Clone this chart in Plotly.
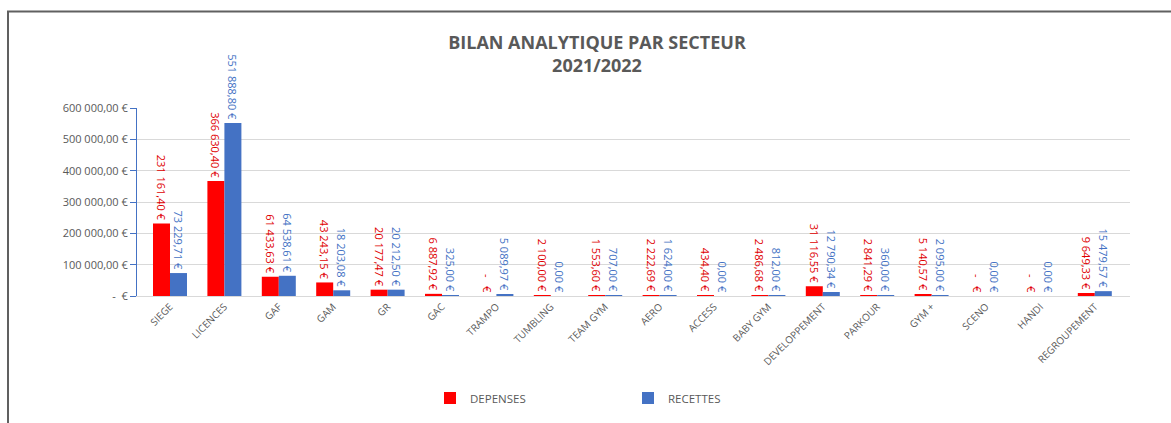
import plotly.graph_objects as go

categories = ["SIEGE", "LICENCES", "GAF", "GAM", "GR", "GAC", "TRAMPO", "TUMBLING",
              "TEAM GYM", "AERO", "ACCESS", "BABY GYM", "DEVELOPPEMENT", "PARKOUR",
              "GYM +", "SCENO", "HANDI", "REGROUPEMENT"]
depenses = [231161.40, 366630.40, 61433.63, 43243.15, 20177.47, 6887.92, 0.0, 2100.00,
            1553.60, 2222.69, 434.40, 2486.68, 31116.55, 2841.29, 5140.57, 0.0, 0.0, 9649.33]
recettes = [73229.71, 551888.80, 64538.61, 18203.08, 20212.50, 325.00, 5089.97, 0.00,
            707.00, 1624.00, 0.00, 812.00, 12790.34, 360.00, 2095.00, 0.00, 0.00, 15479.57]
y_tickvals = [0, 100000, 200000, 300000, 400000, 500000, 600000]
y_ticktext = ["-  €", "100 000,00 €", "200 000,00 €", "300 000,00 €",
              "400 000,00 €", "500 000,00 €", "600 000,00 €"]


def fmt(v, dash_zero):
    if v == 0 and dash_zero:
        return "-   €"
    s = f"{v:,.2f}"
    s = s.replace(",", " ").replace(".", ",")
    return s + " €"


dep_text = [fmt(v, True) for v in depenses]
rec_text = [fmt(v, False) for v in recettes]

FONT = "Open Sans"
GRAY = "#595959"

W, H = 1171, 423
L, R, T, B = 137, 41, 108, 126
PW, PH = W - L - R, H - T - B
STEP = 54.4
FIRST = 170
x_range = [-(FIRST - L) / STEP, (W - R - FIRST) / STEP]

fig = go.Figure()
fig.add_trace(go.Bar(
    x=categories, y=depenses, name="DEPENSES",
    marker=dict(color="#FF0000", line=dict(width=0)),
    text=dep_text, textposition="outside", textangle=90, constraintext="none",
    textfont=dict(color="#E00000", size=11, family=FONT),
    cliponaxis=False,
))
fig.add_trace(go.Bar(
    x=categories, y=recettes, name="RECETTES",
    marker=dict(color="#4472C4", line=dict(width=0)),
    text=rec_text, textposition="outside", textangle=90, constraintext="none",
    textfont=dict(color="#4472C4", size=11, family=FONT),
    cliponaxis=False,
))

fig.update_layout(
    width=W, height=H,
    margin=dict(l=L, r=R, t=T, b=B),
    paper_bgcolor="white", plot_bgcolor="white",
    barmode="group", bargap=0.375, bargroupgap=0,
    title=dict(
        text="<b>BILAN ANALYTIQUE PAR SECTEUR<br>2021/2022</b>",
        x=(597 - L) / PW, xref="paper", xanchor="center",
        y=1 - 49 / H, yref="container", yanchor="middle",
        font=dict(family=FONT, size=18, color=GRAY),
    ),
    font=dict(family=FONT, color=GRAY),
    showlegend=True,
    legend=dict(
        orientation="h", x=(430 - L) / PW, xanchor="left",
        y=-(398 - T - PH) / PH, yanchor="middle",
        font=dict(size=11.5, color=GRAY, family=FONT),
        entrywidth=153, traceorder="normal",
        itemwidth=30,
    ),
    xaxis=dict(
        range=x_range,
        tickangle=-45, tickfont=dict(size=10, color=GRAY, family=FONT),
        showline=True, linecolor="#D9D9D9", linewidth=1,
        showgrid=False, ticks="",
    ),
    yaxis=dict(
        range=[0, 600000], tickvals=y_tickvals, ticktext=y_ticktext,
        tickfont=dict(size=11, color=GRAY, family=FONT),
        showgrid=True, gridcolor="#D9D9D9", gridwidth=1,
        showline=True, linecolor="#4472C4", linewidth=1,
        ticks="outside", tickcolor="#4472C4", ticklen=6,
        zeroline=False,
    ),
    shapes=[
        dict(type="rect", xref="paper", yref="paper",
             x0=(8 - L) / PW, x1=1.2, y0=-1.5, y1=1 + (T - 11) / PH,
             line=dict(color="#606060", width=2), fillcolor="rgba(0,0,0,0)",
             layer="below"),
    ],
)

fig.write_html("out.html", config={"displayModeBar": False},
               post_script="document.body.style.margin='0';document.body.style.overflow='hidden';")
